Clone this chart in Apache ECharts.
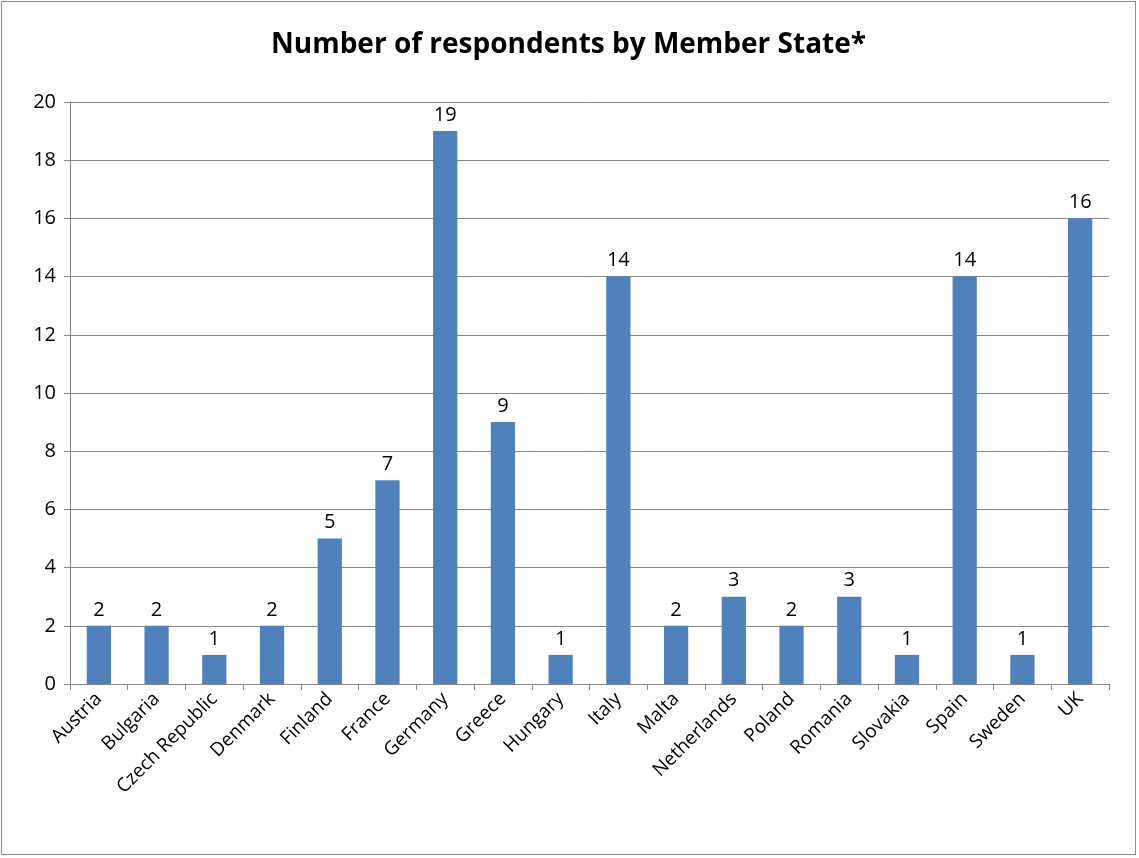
<!DOCTYPE html>
<html><head><meta charset="utf-8">
<script src="https://cdn.jsdelivr.net/npm/echarts@6/dist/echarts.min.js"></script>
<style>html,body{margin:0;padding:0;background:#fff}
#c{position:absolute;left:1px;top:1px;width:1135px;height:854px;border:1px solid #8c8c8c;box-sizing:border-box}</style>
</head><body><div id="c"></div>
<script>
const categories=["Austria","Bulgaria","Czech Republic","Denmark","Finland","France","Germany","Greece","Hungary","Italy","Malta","Netherlands","Poland","Romania","Slovakia","Spain","Sweden","UK"];
const values=[2,2,1,2,5,7,19,9,1,14,2,3,2,3,1,14,1,16];
const chart=echarts.init(document.getElementById('c'));
const font='"Open Sans", "Liberation Sans", sans-serif';
chart.setOption({
  animation:false,
  title:{text:'Number of respondents by Member State*',left:'center',top:24,textStyle:{fontFamily:font,fontSize:28,fontWeight:'bold',color:'#000'}},
  grid:{left:68,right:26,top:100,bottom:170},
  xAxis:{type:'category',data:categories,
    axisLine:{lineStyle:{color:'#868686'}},
    axisTick:{show:true,length:6,lineStyle:{color:'#868686'}},
    axisLabel:{rotate:45,interval:0,fontFamily:font,fontSize:19,color:'#000',margin:12}},
  yAxis:{type:'value',min:0,max:20,interval:2,
    axisLine:{show:true,lineStyle:{color:'#868686'}},
    axisTick:{show:true,length:6,lineStyle:{color:'#868686'}},
    splitLine:{lineStyle:{color:'#868686'}},
    axisLabel:{fontFamily:font,fontSize:20,color:'#000',margin:14}},
  series:[{type:'bar',data:values,barWidth:'42%',itemStyle:{color:'#4f81bd'},
    label:{show:true,position:'top',fontFamily:font,fontSize:20,color:'#000',distance:6}}]
});
</script></body></html>
